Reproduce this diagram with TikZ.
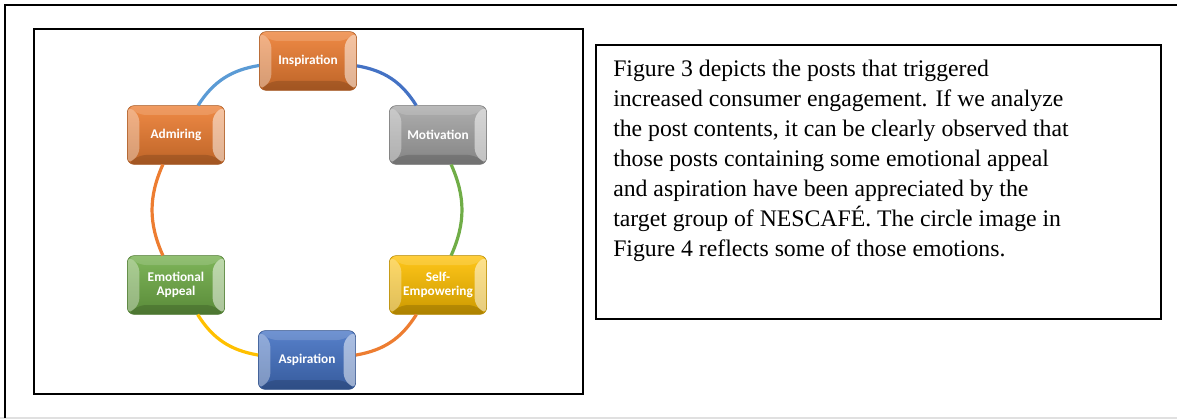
\documentclass[tikz,border=0pt]{standalone}
\usepackage{fontspec}
\setmainfont{Liberation Serif}
\newfontfamily\boxfont{Carlito}
\usetikzlibrary{calc, positioning}
\definecolor{emOrange}{HTML}{ED7D31}
\definecolor{emGrey}{HTML}{A5A5A5}
\definecolor{emYellow}{HTML}{FFC000}
\definecolor{emBlue}{HTML}{4472C4}
\definecolor{emGreen}{HTML}{70AD47}
\definecolor{emSky}{HTML}{5B9BD5}
\tikzset{
  frameline/.style = {line width=1.5pt, black},
  ringarc/.style   = {line width=2.4pt, #1},
  bevel/.style     = {path picture={
      \fill[white, opacity=0.35] (path picture bounding box.north west)
        -- ([xshift=9pt,yshift=-7pt]path picture bounding box.north west)
        -- ([xshift=9pt,yshift=7pt]path picture bounding box.south west)
        -- (path picture bounding box.south west) -- cycle;
      \fill[white, opacity=0.50] (path picture bounding box.north east)
        -- ([xshift=-9pt,yshift=-7pt]path picture bounding box.north east)
        -- ([xshift=-9pt,yshift=7pt]path picture bounding box.south east)
        -- (path picture bounding box.south east) -- cycle;
      \fill[white, opacity=0.15] (path picture bounding box.north west)
        -- ([xshift=9pt,yshift=-7pt]path picture bounding box.north west)
        -- ([xshift=-9pt,yshift=-7pt]path picture bounding box.north east)
        -- (path picture bounding box.north east) -- cycle;
      \fill[black, opacity=0.15] (path picture bounding box.south west)
        -- ([xshift=9pt,yshift=7pt]path picture bounding box.south west)
        -- ([xshift=-9pt,yshift=7pt]path picture bounding box.south east)
        -- (path picture bounding box.south east) -- cycle;}},
  emobox/.style    = {rounded corners=5pt, minimum width=73pt, minimum height=44pt,
                      inner sep=2pt, draw=#1!70!black, line width=0.4pt,
                      top color=#1!90!white, middle color=#1, bottom color=#1!80!black,
                      text=white, align=center, bevel,
                      font=\boxfont\bfseries\fontsize{10}{11}\selectfont},
  bodytext/.style  = {font=\fontsize{17.8}{22.5}\selectfont, align=left,
                      inner sep=0pt, anchor=north west},
}

\begin{document}
\begin{tikzpicture}[x=0.75pt, y=-0.75pt]
  \useasboundingbox (0,0) rectangle (1177,420);

  % outer page frame
  \draw[black!12, line width=0.8pt] (0,418) -- (1177,418);
  \draw[frameline] (5,418) -- (5,5) -- (1177,5);

  % left and right panels
  \draw[frameline] (34,29) rectangle (583,394);
  \draw[line width=1.1pt] (596,45) rectangle (1161,319);

  % emotion boxes round the circle
  \node[emobox=emOrange] (insp)   at (308,61)  {Inspiration};
  \node[emobox=emGrey]   (motiv)  at (438,135) {Motivation};
  \node[emobox=emYellow] (selfem) at (438,285) {Self-\\Empowering};
  \node[emobox=emBlue]   (aspir)  at (307,360) {Aspiration};
  \node[emobox=emGreen]  (emot)   at (176,285) {Emotional\\Appeal};
  \node[emobox=emOrange] (admir)  at (176,135) {Admiring};

  % ring segments
  \draw[ringarc=emBlue]   (insp)   to[bend left=24] (motiv);
  \draw[ringarc=emGreen]  (motiv)  to[bend left=24] (selfem);
  \draw[ringarc=emOrange] (selfem) to[bend left=24] (aspir);
  \draw[ringarc=emYellow] (aspir)  to[bend left=24] (emot);
  \draw[ringarc=emOrange] (emot)   to[bend left=24] (admir);
  \draw[ringarc=emSky]    (admir)  to[bend left=24] (insp);

  % description text
  \node[bodytext] (desc) at (613,60) {Figure 3 depicts the posts that triggered\\
    increased consumer engagement. If we analyze\\
    the post contents, it can be clearly observed that\\
    those posts containing some emotional appeal\\
    and aspiration have been appreciated by the\\
    target group of NESCAFÉ. The circle image in\\
    Figure 4 reflects some of those emotions.};
\end{tikzpicture}
\end{document}
